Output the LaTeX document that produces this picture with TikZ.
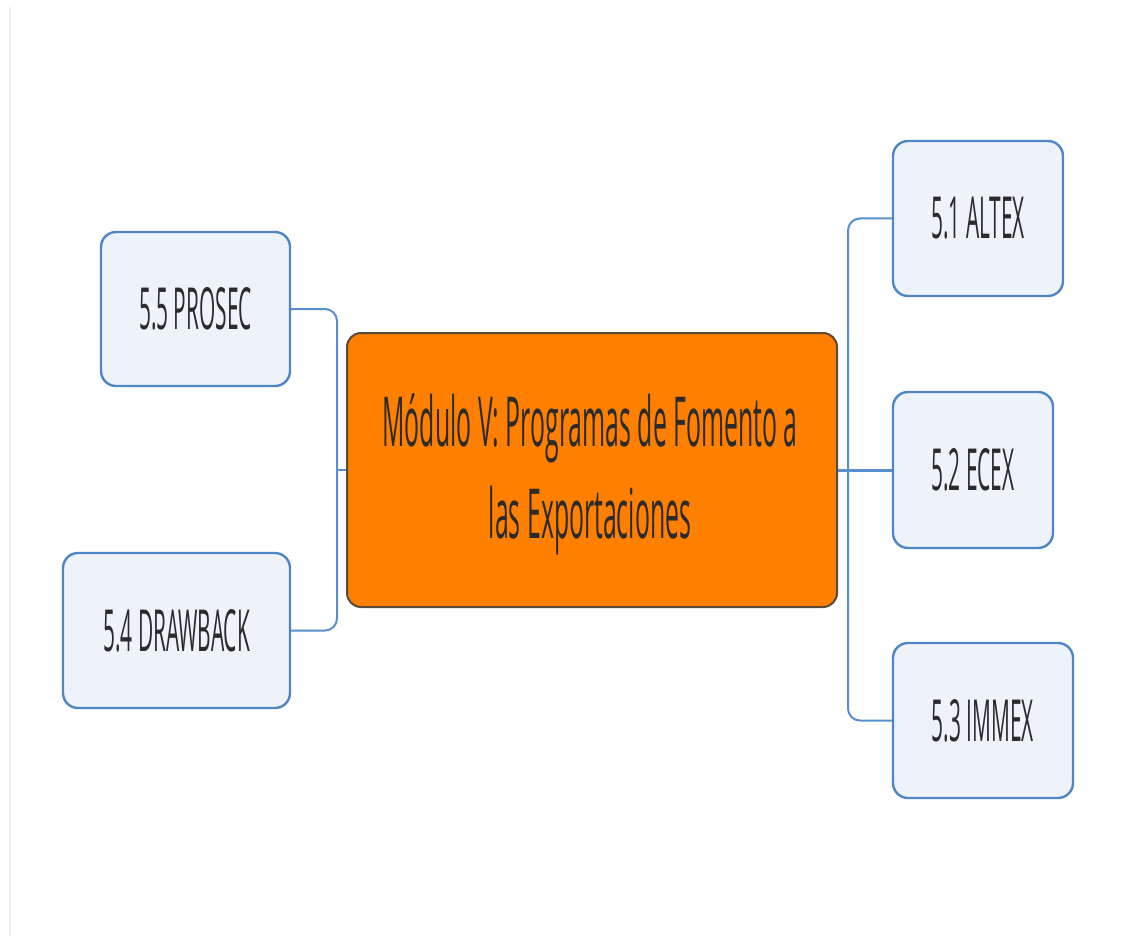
\documentclass[tikz,border=0pt]{standalone}
\usepackage{fontspec}
\setmainfont[FakeStretch=0.36]{Open Sans}
\definecolor{boxfill}{HTML}{EEF3FA}
\definecolor{boxline}{HTML}{4F86C6}
\definecolor{connline}{HTML}{5A8FCF}
\definecolor{mainfill}{HTML}{FF7F00}
\definecolor{mainline}{HTML}{5A4A3A}
\definecolor{txt}{HTML}{2B2B2B}
\tikzset{
  topicbox/.style={draw=boxline, fill=boxfill, line width=2.4pt, rounded corners=15pt,
    inner sep=0pt, text=txt, font=\fontsize{58}{70}\selectfont},
  mainbox/.style={draw=mainline, fill=mainfill, line width=2pt, rounded corners=14pt,
    inner sep=0pt, text=txt, align=center, font=\fontsize{69}{92}\selectfont},
  conn/.style={draw=connline, line width=2pt, rounded corners=12pt},
}
\begin{document}
\begin{tikzpicture}[x=1pt,y=-1pt]
\fill[white] (0,0) rectangle (1127,936);
\useasboundingbox (0,0) rectangle (1127,936);
\draw[color=black!6, line width=1.5pt] (10,7) -- (10,936);
\node[mainbox, minimum width=490pt, minimum height=274pt] (main) at (592,470) {};
\node[text=txt, align=center, font=\fontsize{69}{92}\selectfont, inner sep=0pt] (maintext) at (590,474)
  {Módulo V: Programas de Fomento a\\las Exportaciones};
\node[topicbox, minimum width=189pt, minimum height=154pt] (prosec) at (195.5,309) {5.5 PROSEC};
\node[topicbox, minimum width=227pt, minimum height=155pt] (drawback) at (176.5,630.5) {5.4 DRAWBACK};
\node[topicbox, minimum width=170pt, minimum height=155pt] (altex) at (978,218.5) {5.1 ALTEX};
\node[topicbox, minimum width=160pt, minimum height=156pt] (ecex) at (973,470) {5.2 ECEX};
\node[topicbox, minimum width=180pt, minimum height=155pt] (immex) at (983,720.5) {5.3 IMMEX};
\coordinate (lj) at (337,470);
\coordinate (rj) at (848,470);
\draw[conn] (prosec.east) -| (lj) |- (drawback.east);
\draw[conn] (main.west) -- (lj);
\draw[conn] (altex.west) -| (rj) |- (immex.west);
\draw[conn, line width=3pt] (main.east) -- (ecex.west);
\end{tikzpicture}
\end{document}
